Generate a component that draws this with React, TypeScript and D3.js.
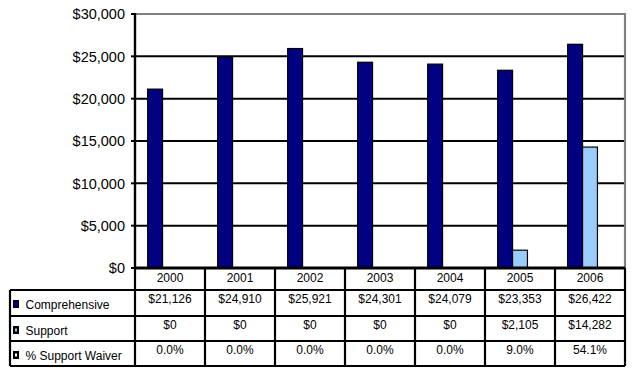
import React from "react";
import * as d3 from "d3";

const years = ["2000", "2001", "2002", "2003", "2004", "2005", "2006"];
const comprehensive = [21126, 24910, 25921, 24301, 24079, 23353, 26422];
const support = [0, 0, 0, 0, 0, 2105, 14282];
const supportWaiver = [0.0, 0.0, 0.0, 0.0, 0.0, 0.09, 0.541];
const comprehensiveLabels = ["$21,126", "$24,910", "$25,921", "$24,301", "$24,079", "$23,353", "$26,422"];
const supportLabels = ["$0", "$0", "$0", "$0", "$0", "$2,105", "$14,282"];
const waiverLabels = ["0.0%", "0.0%", "0.0%", "0.0%", "0.0%", "9.0%", "54.1%"];
const yTicks = [0, 5000, 10000, 15000, 20000, 25000, 30000];
const seriesNames = ["Comprehensive", "Support", "% Support Waiver"];
const seriesColors = ["#000080", "#99CCFF", "#FFFFFF"];

const W = 636;
const H = 376;
const plotLeft = 135;
const plotRight = 625;
const plotTop = 14;
const plotBottom = 268;
const tableLeft = 10;
const rowTops = [268, 290, 316, 341];
const tableBottom = 366;

export default function App() {
  const x = d3.scaleBand<string>().domain(years).range([plotLeft, plotRight]).padding(0);
  const sub = d3
    .scaleBand<string>()
    .domain(["0", "1", "2"])
    .range([0, x.bandwidth()])
    .paddingInner(0)
    .paddingOuter(0.85);
  const y = d3.scaleLinear().domain([0, 30000]).range([plotBottom, plotTop]);
  const fmt = d3.format("$,");

  const series = [comprehensive, support, supportWaiver];
  const font = "Arial, 'Liberation Sans', sans-serif";
  const rowLabels = [comprehensiveLabels, supportLabels, waiverLabels];

  return (
    <svg
      width={W}
      height={H}
      style={{ position: "absolute", left: 0, top: 0, background: "#fff" }}
      fontFamily={font}
    >
      <rect x={0} y={0} width={W} height={H} fill="#fff" />
      {/* gridlines */}
      {yTicks.slice(1, -1).map((t) => (
        <line key={t} x1={plotLeft} x2={plotRight} y1={y(t)} y2={y(t)} stroke="#000" strokeWidth={2} />
      ))}
      {/* plot border top/right gray */}
      <line x1={plotLeft} x2={plotRight + 1} y1={y(30000)} y2={y(30000)} stroke="#808080" strokeWidth={2.2} />
      <line x1={plotRight} x2={plotRight} y1={plotTop} y2={plotBottom} stroke="#808080" strokeWidth={2.2} />
      {/* bars */}
      {series.map((vals, si) =>
        years.map((yr, i) => {
          const v = vals[i];
          const h = plotBottom - y(v);
          if (h < 0.5) return null;
          return (
            <rect
              key={si + "-" + yr}
              x={(x(yr) as number) + (sub(String(si)) as number)}
              y={y(v)}
              width={sub.bandwidth()}
              height={h}
              fill={seriesColors[si]}
              stroke="#000"
              strokeWidth={1.2}
            />
          );
        })
      )}
      {/* y axis */}
      <line x1={plotLeft} x2={plotLeft} y1={plotTop - 1} y2={plotBottom} stroke="#000" strokeWidth={2.4} />
      {yTicks.map((t) => (
        <g key={"t" + t}>
          <line x1={plotLeft - 4} x2={plotLeft} y1={y(t)} y2={y(t)} stroke="#000" strokeWidth={2} />
          <text x={125} y={y(t)} dy="0.36em" textAnchor="end" fontSize={14.5} fill="#000">
            {fmt(t)}
          </text>
        </g>
      ))}
      {/* table */}
      <line x1={plotLeft} x2={plotRight} y1={plotBottom} y2={plotBottom} stroke="#000" strokeWidth={2.8} />
      {rowTops.slice(1).map((ry) => (
        <line key={"r" + ry} x1={tableLeft} x2={plotRight} y1={ry} y2={ry} stroke="#000" strokeWidth={2.2} />
      ))}
      <line x1={tableLeft} x2={plotRight} y1={tableBottom} y2={tableBottom} stroke="#000" strokeWidth={2.2} />
      <line x1={tableLeft} x2={tableLeft} y1={rowTops[1]} y2={tableBottom} stroke="#000" strokeWidth={2.2} />
      {years.map((yr) => (
        <line
          key={"v" + yr}
          x1={x(yr) as number}
          x2={x(yr) as number}
          y1={plotBottom}
          y2={tableBottom}
          stroke="#000"
          strokeWidth={2.2}
        />
      ))}
      <line x1={plotRight} x2={plotRight} y1={plotBottom} y2={tableBottom} stroke="#000" strokeWidth={2.2} />
      {/* header years */}
      {years.map((yr) => (
        <text
          key={"h" + yr}
          x={(x(yr) as number) + x.bandwidth() / 2}
          y={rowTops[0] + 14}
          textAnchor="middle"
          fontSize={12}
          fill="#000"
        >
          {yr}
        </text>
      ))}
      {/* rows */}
      {seriesNames.map((name, si) => {
        const top = rowTops[si + 1];
        return (
          <g key={name}>
            <rect x={13} y={top + 10} width={6} height={8} fill="#000" />
            {si > 0 && <rect x={15} y={top + 12.5} width={2} height={3} fill={seriesColors[si]} />}
            {si === 0 && <rect x={14} y={top + 11} width={4} height={6} fill={seriesColors[0]} />}
            <text x={25.5} y={top + 18.5} fontSize={12} fill="#000">
              {name}
            </text>
            {years.map((yr, i) => (
              <text
                key={yr}
                x={(x(yr) as number) + x.bandwidth() / 2}
                y={top + 13}
                textAnchor="middle"
                fontSize={12}
                fill="#000"
              >
                {rowLabels[si][i]}
              </text>
            ))}
          </g>
        );
      })}
    </svg>
  );
}
